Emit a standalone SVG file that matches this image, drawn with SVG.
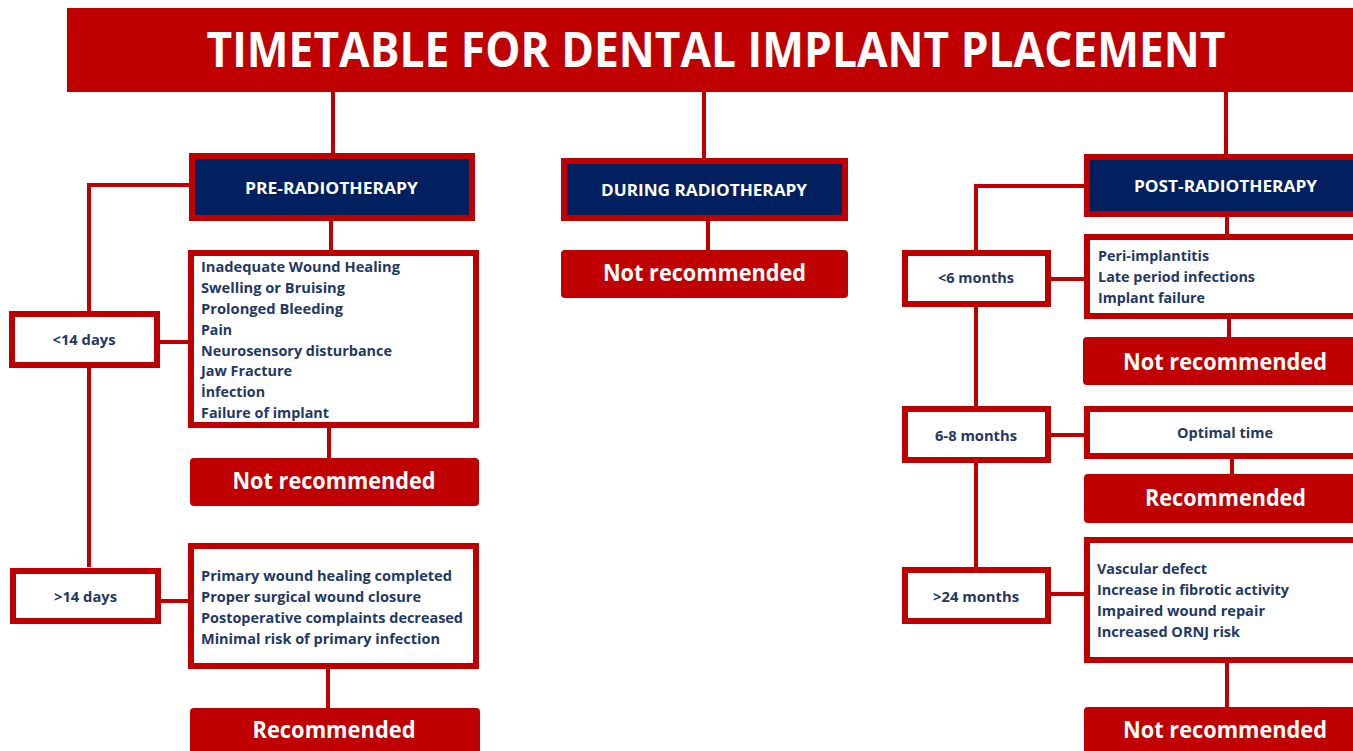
<svg xmlns="http://www.w3.org/2000/svg" width="1353" height="751" viewBox="0 0 1353 751">
<style>
.ln{stroke:#C00000;stroke-width:4;fill:none}
.hdr{fill:#002060;stroke:#C00000;stroke-width:6}
.box{fill:#FFFFFF;stroke:#C00000;stroke-width:6}
.btn{fill:#C00000}
.t{font-family:"Open Sans","Liberation Sans",sans-serif;font-weight:bold}
.title{fill:#FFFFFF;font-size:49px}
.ht{fill:#FFFFFF;font-size:16px}
.bt{fill:#FFFFFF;font-size:24px}
.lt{fill:#1F3864;font-size:15px}
.st{fill:#1F3864;font-size:15px}
</style>
<rect width="1353" height="751" fill="#FFFFFF"/>
<g id="connectors">
<path class="ln" d="M333 92V156"/>
<path class="ln" d="M704 92V160"/>
<path class="ln" d="M1226 92V156"/>
<path class="ln" d="M189 185H89V567"/>
<path class="ln" d="M331 219V252"/>
<path class="ln" d="M160 342H190"/>
<path class="ln" d="M329 426V460"/>
<path class="ln" d="M160 601H190"/>
<path class="ln" d="M328 667V709"/>
<path class="ln" d="M708 219V252"/>
<path class="ln" d="M1086 186H976V569"/>
<path class="ln" d="M1227 215V236"/>
<path class="ln" d="M1050 279H1086"/>
<path class="ln" d="M1229 317V339"/>
<path class="ln" d="M1050 435H1086"/>
<path class="ln" d="M1232 457V476"/>
<path class="ln" d="M1050 594H1086"/>
<path class="ln" d="M1227 661V709"/>
</g>
<g id="title">
<rect class="btn" x="67" y="8" width="1300" height="84"/>
<text class="t title" x="716" y="67" text-anchor="middle" textLength="1019" lengthAdjust="spacingAndGlyphs">TIMETABLE FOR DENTAL IMPLANT PLACEMENT</text>
</g>
<g id="pre">
<rect class="hdr" x="192" y="156" width="280" height="62"/>
<text class="t ht" x="331.5" y="194" text-anchor="middle" textLength="173" lengthAdjust="spacingAndGlyphs">PRE-RADIOTHERAPY</text>
</g>
<g id="pre-lt14">
<rect class="box" x="12" y="314" width="145" height="51"/>
<text class="t st" x="84" y="345" text-anchor="middle" textLength="63" lengthAdjust="spacingAndGlyphs">&lt;14 days</text>
</g>
<g id="pre-lt14-list">
<rect class="box" x="191" y="253" width="285" height="172"/>
<text class="t lt" x="201" y="272" textLength="199" lengthAdjust="spacingAndGlyphs">Inadequate Wound Healing</text>
<text class="t lt" x="201" y="293" textLength="144" lengthAdjust="spacingAndGlyphs">Swelling or Bruising</text>
<text class="t lt" x="201" y="314" textLength="142" lengthAdjust="spacingAndGlyphs">Prolonged Bleeding</text>
<text class="t lt" x="201" y="335" textLength="31" lengthAdjust="spacingAndGlyphs">Pain</text>
<text class="t lt" x="201" y="356" textLength="191" lengthAdjust="spacingAndGlyphs">Neurosensory disturbance</text>
<text class="t lt" x="201" y="376" textLength="91" lengthAdjust="spacingAndGlyphs">Jaw Fracture</text>
<text class="t lt" x="201" y="397" textLength="64" lengthAdjust="spacingAndGlyphs">İnfection</text>
<text class="t lt" x="201" y="418" textLength="128" lengthAdjust="spacingAndGlyphs">Failure of implant</text>
</g>
<g id="pre-lt14-result">
<rect class="btn" x="190" y="458" width="289" height="48" rx="4"/>
<text class="t bt" x="334" y="489" text-anchor="middle" textLength="203" lengthAdjust="spacingAndGlyphs">Not recommended</text>
</g>
<g id="pre-gt14">
<rect class="box" x="13" y="571" width="145" height="50"/>
<text class="t st" x="85.5" y="602" text-anchor="middle" textLength="63" lengthAdjust="spacingAndGlyphs">&gt;14 days</text>
</g>
<g id="pre-gt14-list">
<rect class="box" x="191" y="546" width="285" height="120"/>
<text class="t lt" x="201" y="581" textLength="251" lengthAdjust="spacingAndGlyphs">Primary wound healing completed</text>
<text class="t lt" x="201" y="602" textLength="220" lengthAdjust="spacingAndGlyphs">Proper surgical wound closure</text>
<text class="t lt" x="201" y="623" textLength="262" lengthAdjust="spacingAndGlyphs">Postoperative complaints decreased</text>
<text class="t lt" x="201" y="644" textLength="239" lengthAdjust="spacingAndGlyphs">Minimal risk of primary infection</text>
</g>
<g id="pre-gt14-result">
<rect class="btn" x="190" y="708" width="290" height="60" rx="4"/>
<text class="t bt" x="334" y="738" text-anchor="middle" textLength="163" lengthAdjust="spacingAndGlyphs">Recommended</text>
</g>
<g id="during">
<rect class="hdr" x="564" y="161" width="281" height="57"/>
<text class="t ht" x="704" y="196" text-anchor="middle" textLength="206" lengthAdjust="spacingAndGlyphs">DURING RADIOTHERAPY</text>
</g>
<g id="during-result">
<rect class="btn" x="561" y="250" width="287" height="48" rx="4"/>
<text class="t bt" x="704.5" y="281" text-anchor="middle" textLength="203" lengthAdjust="spacingAndGlyphs">Not recommended</text>
</g>
<g id="post">
<rect class="hdr" x="1087" y="157" width="290" height="57"/>
<text class="t ht" x="1225.5" y="192" text-anchor="middle" textLength="183" lengthAdjust="spacingAndGlyphs">POST-RADIOTHERAPY</text>
</g>
<g id="post-lt6">
<rect class="box" x="905" y="253" width="143" height="51"/>
<text class="t st" x="976" y="283" text-anchor="middle" textLength="76" lengthAdjust="spacingAndGlyphs">&lt;6 months</text>
</g>
<g id="post-lt6-list">
<rect class="box" x="1087" y="237" width="290" height="79"/>
<text class="t lt" x="1098" y="261" textLength="111" lengthAdjust="spacingAndGlyphs">Peri-implantitis</text>
<text class="t lt" x="1098" y="282" textLength="157" lengthAdjust="spacingAndGlyphs">Late period infections</text>
<text class="t lt" x="1098" y="303" textLength="107" lengthAdjust="spacingAndGlyphs">Implant failure</text>
</g>
<g id="post-lt6-result">
<rect class="btn" x="1083" y="337" width="290" height="48" rx="4"/>
<text class="t bt" x="1225" y="370" text-anchor="middle" textLength="204" lengthAdjust="spacingAndGlyphs">Not recommended</text>
</g>
<g id="post-6to8">
<rect class="box" x="905" y="409" width="143" height="51"/>
<text class="t st" x="976" y="441" text-anchor="middle" textLength="82" lengthAdjust="spacingAndGlyphs">6-8 months</text>
</g>
<g id="post-6to8-note">
<rect class="box" x="1087" y="409" width="290" height="47"/>
<text class="t st" x="1225" y="438" text-anchor="middle" textLength="96" lengthAdjust="spacingAndGlyphs">Optimal time</text>
</g>
<g id="post-6to8-result">
<rect class="btn" x="1084" y="474" width="290" height="49" rx="4"/>
<text class="t bt" x="1225.5" y="506" text-anchor="middle" textLength="161" lengthAdjust="spacingAndGlyphs">Recommended</text>
</g>
<g id="post-gt24">
<rect class="box" x="905" y="570" width="143" height="51"/>
<text class="t st" x="976" y="602" text-anchor="middle" textLength="86" lengthAdjust="spacingAndGlyphs">&gt;24 months</text>
</g>
<g id="post-gt24-list">
<rect class="box" x="1087" y="540" width="290" height="120"/>
<text class="t lt" x="1097" y="574" textLength="110" lengthAdjust="spacingAndGlyphs">Vascular defect</text>
<text class="t lt" x="1097" y="595" textLength="192" lengthAdjust="spacingAndGlyphs">Increase in fibrotic activity</text>
<text class="t lt" x="1097" y="616" textLength="168" lengthAdjust="spacingAndGlyphs">Impaired wound repair</text>
<text class="t lt" x="1097" y="637" textLength="143" lengthAdjust="spacingAndGlyphs">Increased ORNJ risk</text>
</g>
<g id="post-gt24-result">
<rect class="btn" x="1084" y="707" width="290" height="60" rx="4"/>
<text class="t bt" x="1225" y="738" text-anchor="middle" textLength="204" lengthAdjust="spacingAndGlyphs">Not recommended</text>
</g>
</svg>
